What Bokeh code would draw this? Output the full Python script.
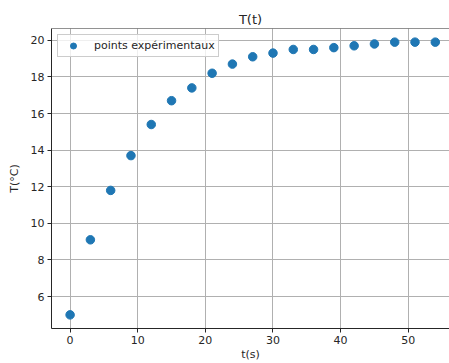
from bokeh.plotting import figure
from bokeh.models import Range1d, SingleIntervalTicker, Span, Legend, LegendItem
from bokeh.embed import file_html
from bokeh.resources import INLINE

t_values = [0, 3, 6, 9, 12, 15, 18, 21, 24, 27, 30, 33, 36, 39, 42, 45, 48, 51, 54]
T_values = [5.0, 9.1, 11.8, 13.7, 15.4, 16.7, 17.4, 18.2, 18.7, 19.1, 19.3, 19.5,
            19.5, 19.6, 19.7, 19.8, 19.9, 19.9, 19.9]
title_text = "T(t)"
x_label = "t(s)"
y_label = "T(°C)"
legend_label = "points expérimentaux"

FONT = "DejaVu Sans"
BLUE = "#1f77b4"
DARK = "#262626"

p = figure(width=449, height=363, output_backend="svg", toolbar_location=None,
           x_range=Range1d(-2.75, 56.1), y_range=Range1d(4.255, 20.645),
           min_border_left=51, min_border_right=0, min_border_top=28, min_border_bottom=33)

p.title.text = title_text
p.title.align = "center"
p.title.text_font = FONT
p.title.text_font_size = "13px"
p.title.text_font_style = "normal"
p.title.text_color = DARK
p.title.standoff = 4
p.title.offset = 2

p.outline_line_color = None
p.background_fill_color = "white"
p.border_fill_color = "white"

r = p.scatter(t_values, T_values, size=8.5, color=BLUE, line_color=BLUE)

p.xaxis.ticker = SingleIntervalTicker(interval=10)
p.yaxis.ticker = SingleIntervalTicker(interval=2)
for ax in (p.xaxis[0], p.yaxis[0]):
    ax.axis_line_color = DARK
    ax.axis_line_width = 1
    ax.major_tick_line_color = DARK
    ax.major_tick_out = 4
    ax.major_tick_in = 0
    ax.minor_tick_line_color = None
    ax.major_label_text_font = FONT
    ax.major_label_text_font_size = "11px"
    ax.major_label_text_color = DARK
    ax.major_label_standoff = 3
    ax.axis_label_text_font = FONT
    ax.axis_label_text_font_size = "11px"
    ax.axis_label_text_font_style = "normal"
    ax.axis_label_text_color = DARK
p.xaxis.axis_label = x_label
p.yaxis.axis_label = y_label
p.xaxis.axis_label_standoff = 1
p.yaxis.axis_label_standoff = 7

p.grid.grid_line_color = "#b0b0b0"
p.grid.grid_line_width = 1
p.grid.level = "underlay"

top_spine = Span(location=20.645, dimension="width", line_color=DARK, line_width=1)
p.add_layout(top_spine)

legend = Legend(items=[LegendItem(label=legend_label, renderers=[r])], location="top_left")
legend.margin = 6
legend.padding = 3
legend.glyph_width = 24
legend.glyph_height = 15
legend.label_standoff = 9
legend.label_text_font = FONT
legend.label_text_font_size = "11px"
legend.label_text_color = DARK
legend.border_line_color = "#cccccc"
legend.border_line_alpha = 1
legend.background_fill_alpha = 0.8
p.add_layout(legend)

open("out.html", "w").write(file_html(p, INLINE))
